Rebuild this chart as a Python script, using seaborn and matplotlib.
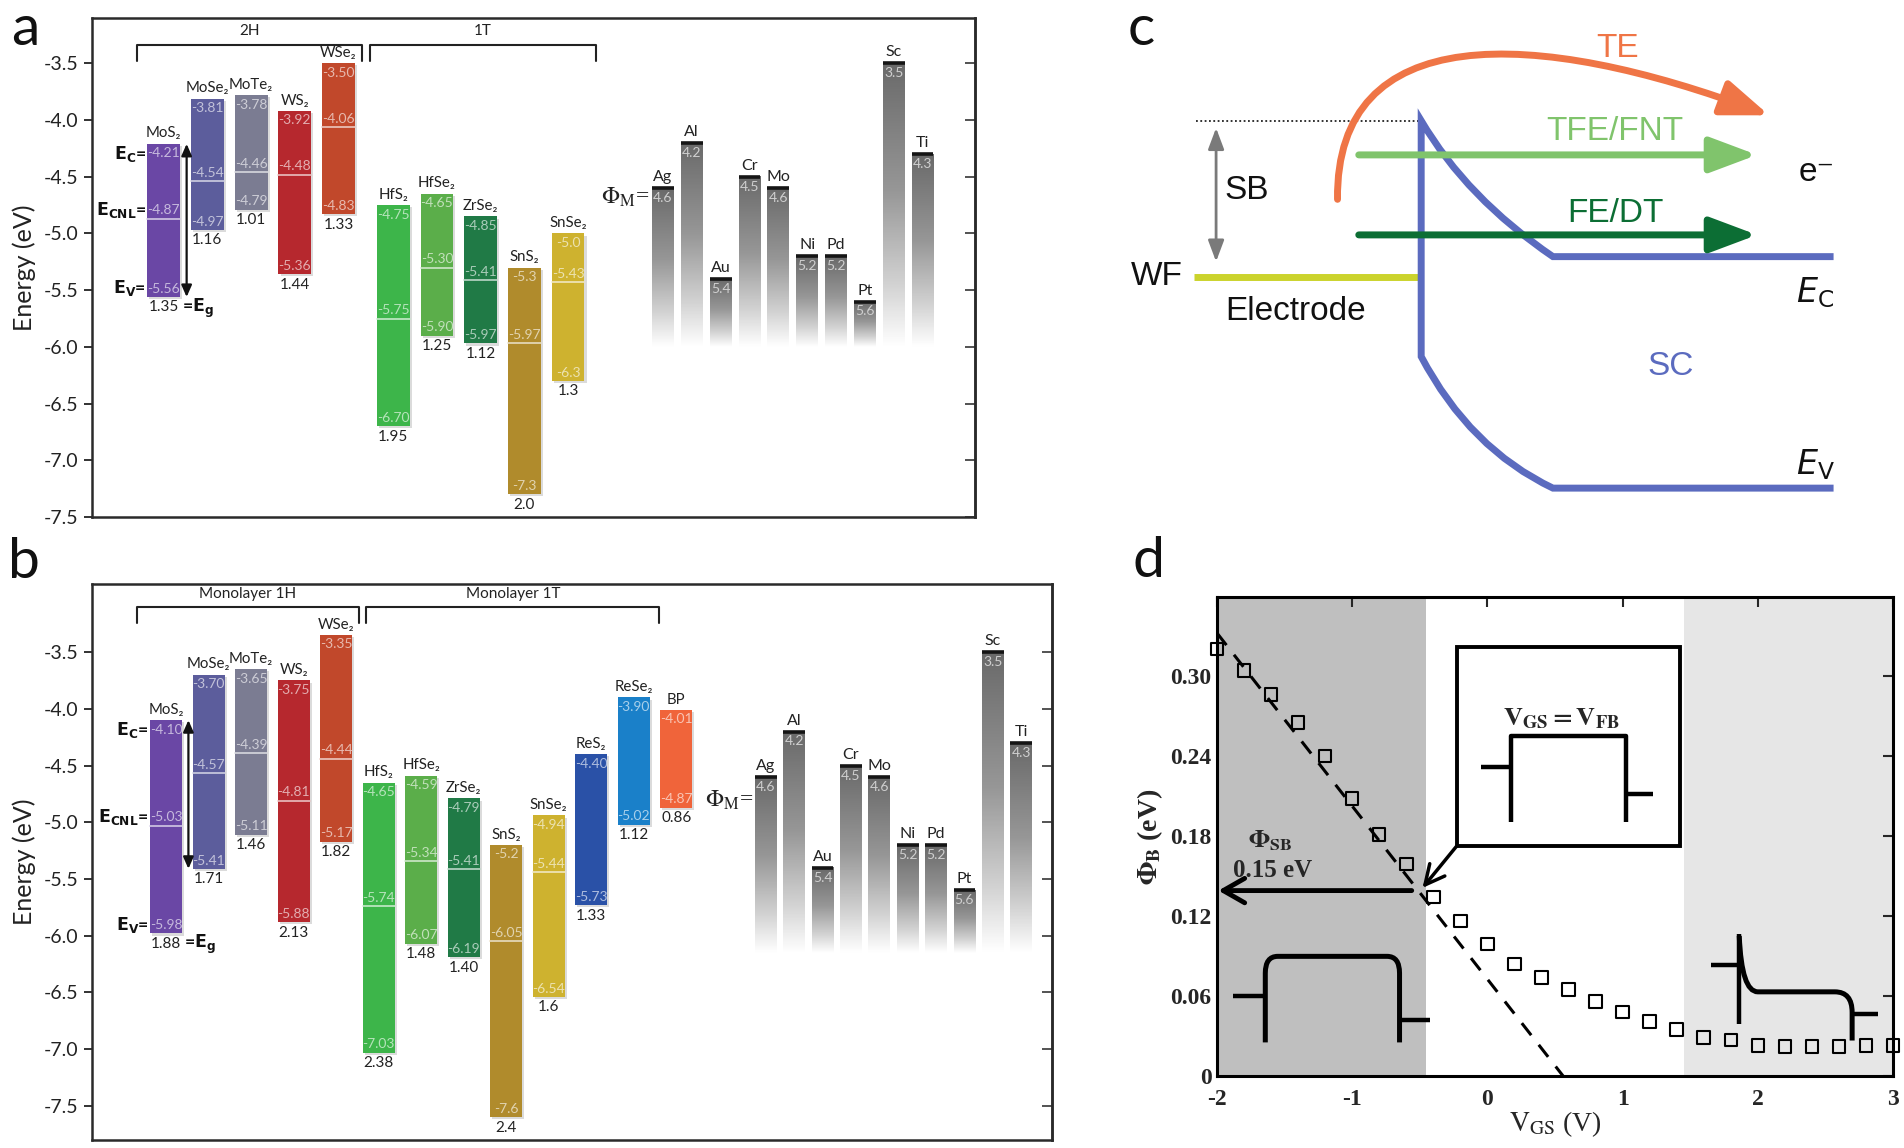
import numpy as np
import matplotlib
matplotlib.use("Agg")
import matplotlib.pyplot as plt
import matplotlib.patheffects as pe
import seaborn as sns
from matplotlib.colors import LinearSegmentedColormap, to_rgb
from matplotlib.path import Path
from matplotlib.patches import PathPatch, FancyArrowPatch, Rectangle

# --- panel a: bulk TMDs, band edges (eV) ---
A_NAMES = ["MoS₂", "MoSe₂", "MoTe₂", "WS₂", "WSe₂", "HfS₂", "HfSe₂", "ZrSe₂", "SnS₂", "SnSe₂"]
A_EC = ["-4.21", "-3.81", "-3.78", "-3.92", "-3.50", "-4.75", "-4.65", "-4.85", "-5.3", "-5.0"]
A_CNL = ["-4.87", "-4.54", "-4.46", "-4.48", "-4.06", "-5.75", "-5.30", "-5.41", "-5.97", "-5.43"]
A_EV = ["-5.56", "-4.97", "-4.79", "-5.36", "-4.83", "-6.70", "-5.90", "-5.97", "-7.3", "-6.3"]
A_GAP = ["1.35", "1.16", "1.01", "1.44", "1.33", "1.95", "1.25", "1.12", "2.0", "1.3"]
A_GROUPS = ["2H", "1T"]

# --- panel b: monolayers, band edges (eV) ---
B_NAMES = A_NAMES + ["ReS₂", "ReSe₂", "BP"]
B_EC = ["-4.10", "-3.70", "-3.65", "-3.75", "-3.35", "-4.65", "-4.59", "-4.79", "-5.2", "-4.94", "-4.40", "-3.90", "-4.01"]
B_CNL = ["-5.03", "-4.57", "-4.39", "-4.81", "-4.44", "-5.74", "-5.34", "-5.41", "-6.05", "-5.44", None, None, None]
B_EV = ["-5.98", "-5.41", "-5.11", "-5.88", "-5.17", "-7.03", "-6.07", "-6.19", "-7.6", "-6.54", "-5.73", "-5.02", "-4.87"]
B_GAP = ["1.88", "1.71", "1.46", "2.13", "1.82", "2.38", "1.48", "1.40", "2.4", "1.6", "1.33", "1.12", "0.86"]
B_GROUPS = ["Monolayer 1H", "Monolayer 1T"]

# --- metal work functions (eV) ---
METALS = ["Ag", "Al", "Au", "Cr", "Mo", "Ni", "Pd", "Pt", "Sc", "Ti"]
WORK_FN = ["4.6", "4.2", "5.4", "4.5", "4.6", "5.2", "5.2", "5.6", "3.5", "4.3"]

E_TICKS = [-3.5, -4.0, -4.5, -5.0, -5.5, -6.0, -6.5, -7.0, -7.5]

COLORS = {
    "MoS₂": "#6a47a5", "MoSe₂": "#5c5d9c", "MoTe₂": "#7b7c92", "WS₂": "#b6282e",
    "WSe₂": "#c1482b", "HfS₂": "#3db54a", "HfSe₂": "#5bae4a", "ZrSe₂": "#207a46",
    "SnS₂": "#b08b2c", "SnSe₂": "#ceb22f", "ReS₂": "#2a51a7", "ReSe₂": "#1a80c9",
    "BP": "#f0643a",
}

# --- panel d: barrier height vs gate voltage ---
VGS = [-2.0, -1.8, -1.6, -1.4, -1.2, -1.0, -0.8, -0.6, -0.4, -0.2, 0.0, 0.2, 0.4,
       0.6, 0.8, 1.0, 1.2, 1.4, 1.6, 1.8, 2.0, 2.2, 2.4, 2.6, 2.8, 3.0]
PHI_B = [0.320, 0.304, 0.286, 0.265, 0.240, 0.208, 0.181, 0.159, 0.134, 0.116, 0.099,
         0.084, 0.074, 0.065, 0.056, 0.048, 0.041, 0.035, 0.029, 0.027, 0.023, 0.022,
         0.022, 0.022, 0.023, 0.023]
FIT_V = [-2.0, 0.56]
FIT_PHI = [0.332, 0.0]
V_FB = -0.455
V_ACC = 1.455
PHI_SB = 0.139

# --- panel c: schematic band diagram (sketch units, y grows downward) ---
BAND_XY = [(1510, 211.4), (1278.9, 211.4), (1208, 163.3), (1170.4, 99.4), (1170.4, 293.7),
           (1210.4, 369.6), (1278.9, 402.1), (1510, 402.1)]
BAND_CODES = [Path.MOVETO, Path.LINETO, Path.CURVE3, Path.CURVE3, Path.LINETO,
              Path.CURVE3, Path.CURVE3, Path.LINETO]
TE_XY = [(1101.5, 164.2), (1099.9, 16.5), (1262.7, 22.0), (1457.0, 95.0)]
BARRIER_TOP = 99.4
WF_LEVEL = 228.0

SANS = ["Lato", "DejaVu Sans"]
ARIAL = ["Liberation Sans", "DejaVu Sans"]
SERIF = ["Liberation Serif", "DejaVu Serif"]

sns.set_style("white")
plt.rcParams["font.family"] = SANS

METAL_CMAP = LinearSegmentedColormap.from_list(
    "metal", [(0, "#6a6a6a"), (0.45, "#979797"), (0.78, "#d2d2d2"), (1, "#ffffff")])
RAMP = np.linspace(0, 1, 200)[:, None]


def tint(c, f):
    r, g, b = to_rgb(c)
    return (r + (1 - r) * f, g + (1 - g) * f, b + (1 - b) * f)


def draw_semis(ax, xs, names, ec, cnl, ev, gap, w=0.75):
    for x, n, t, m, b, g in zip(xs, names, ec, cnl, ev, gap):
        top, bot = float(t), float(b)
        col = COLORS[n]
        light = tint(col, 0.62)
        bar = ax.bar(x, top - bot, bottom=bot, width=w, color=col, lw=0, zorder=2)
        bar[0].set_path_effects([pe.SimplePatchShadow(offset=(1.5, -1.5), shadow_rgbFace="#999999", alpha=0.35),
                                 pe.Normal()])
        ax.text(x, top - 0.03, t, ha="center", va="top", color=light, fontsize=10, zorder=4)
        if m is not None:
            mid = float(m)
            ax.plot([x - w / 2, x + w / 2], [mid, mid], color=tint(col, 0.7), lw=1.2, zorder=3)
            ax.text(x, mid + 0.02, m, ha="center", va="bottom", color=light, fontsize=10, zorder=4)
        ax.text(x, bot + 0.02, b, ha="center", va="bottom", color=light, fontsize=10, zorder=4)
        ax.text(x, bot - 0.03, g, ha="center", va="top", color="#222222", fontsize=11)
        ax.text(x, top + 0.03, n, ha="center", va="bottom", color="#222222", fontsize=10.8)


def draw_metals(ax, xs, fade_to, w=0.5):
    for x, n, wf in zip(xs, METALS, WORK_FN):
        top = -float(wf)
        ax.imshow(RAMP, extent=[x - w / 2, x + w / 2, fade_to, top], cmap=METAL_CMAP,
                  vmin=0, vmax=1, aspect="auto", interpolation="bilinear", zorder=2)
        ax.plot([x - w / 2, x + w / 2], [top, top], color="#151515", lw=2.6,
                solid_capstyle="butt", zorder=3)
        ax.text(x, top + 0.035, n, ha="center", va="bottom", color="#222222", fontsize=11.5)
        ax.text(x, top - 0.035, wf, ha="center", va="top", color="#cfcfcf", fontsize=10, zorder=4)


def bracket(ax, x0, x1, y, label, drop=0.14, gap=0.05):
    ax.plot([x0, x0, x1, x1], [y - drop, y, y, y - drop], color="#222222", lw=1.5)
    ax.text((x0 + x1) / 2, y + gap, label, ha="center", va="bottom", fontsize=11, color="#222222")


def edge_labels(ax, x, ec, cnl, ev, gap, arrow_to, w=0.75):
    left = x - w / 2 - 0.03
    kw = dict(ha="right", va="center", fontsize=12.5, fontweight="bold", color="#111111",
              math_fontfamily="dejavusans")
    ax.text(left, float(ec) - 0.085, r"$\mathbf{E}_{\mathbf{C}}$=", **kw)
    ax.text(left, float(cnl) + 0.075, r"$\mathbf{E}_{\mathbf{CNL}}$=", **kw)
    ax.text(left, float(ev) + 0.075, r"$\mathbf{E}_{\mathbf{V}}$=", **kw)
    kw["ha"] = "left"
    ax.text(x + w / 2 + 0.05, float(ev) - 0.1, r"=$\mathbf{E}_{\mathbf{g}}$", **kw)
    ax.annotate("", xy=(x + w / 2 + 0.15, arrow_to), xytext=(x + w / 2 + 0.15, float(ec)),
                arrowprops=dict(arrowstyle="<|-|>,head_length=0.5,head_width=0.22", lw=1.6,
                                color="#111111", shrinkA=0, shrinkB=0, mutation_scale=14))


def style_energy(ax, xlim, ylim):
    ax.set_xlim(*xlim)
    ax.set_ylim(*ylim)
    ax.set_xticks([])
    ax.set_yticks(E_TICKS)
    ax.set_yticklabels([f"{t:.1f}" for t in E_TICKS])
    ax.tick_params(axis="y", direction="out", length=6, width=1.3, labelsize=14,
                   colors="#222222", left=True, right=False)
    sec = ax.secondary_yaxis("right")
    sec.set_yticks(E_TICKS)
    sec.tick_params(direction="in", length=7, width=1.3, labelright=False, colors="#444444")
    sec.spines["right"].set_linewidth(1.8)
    sec.spines["right"].set_color("#2a2a2a")
    for s in ax.spines.values():
        s.set_linewidth(1.8)
        s.set_color("#2a2a2a")
    ax.set_ylabel("Energy (eV)", fontsize=18, labelpad=6, color="#222222")


fig = plt.figure(figsize=(19.04, 11.48), dpi=100)

# ---------------- panel a ----------------
axa = fig.add_axes([0.04832, 0.54965, 0.46376, 0.43467])
a_x = np.arange(len(A_NAMES)) + np.repeat([0.0, 0.25], 5)
a_mx = 11.42 + 0.66 * np.arange(len(METALS))
draw_semis(axa, a_x, A_NAMES, A_EC, A_CNL, A_EV, A_GAP)
draw_metals(axa, a_mx, -6.0)
edge_labels(axa, a_x[0], A_EC[0], A_CNL[0], A_EV[0], A_GAP[0], float(A_EV[0]))
bracket(axa, a_x[0] - 0.61, a_x[4] + 0.53, -3.34, A_GROUPS[0], gap=0.06)
bracket(axa, a_x[5] - 0.53, a_x[9] + 0.64, -3.34, A_GROUPS[1], gap=0.06)
axa.text(a_mx[0] - 0.3, -4.68, r"$\Phi_{\mathrm{M}}$=", ha="right", va="center", fontsize=17,
         family=SERIF, math_fontfamily="stix", color="#222222")
style_energy(axa, (-1.64, 18.56), (-7.5, -3.10))

# ---------------- panel b ----------------
axb = fig.add_axes([0.04832, 0.00697, 0.5042, 0.48432])
b_x = np.arange(len(B_NAMES)).astype(float)
b_mx = 14.11 + 0.667 * np.arange(len(METALS))
draw_semis(axb, b_x, B_NAMES, B_EC, B_CNL, B_EV, B_GAP)
draw_metals(axb, b_mx, -6.15, w=0.51)
edge_labels(axb, b_x[0], B_EC[0], B_CNL[0], B_EV[0], B_GAP[0], float(B_EV[1]))
bracket(axb, b_x[0] - 0.69, b_x[4] + 0.54, -3.10, B_GROUPS[0])
bracket(axb, b_x[5] - 0.29, b_x[11] + 0.6, -3.10, B_GROUPS[1])
axb.text(b_mx[0] - 0.3, -4.81, r"$\Phi_{\mathrm{M}}$=", ha="right", va="center", fontsize=17,
         family=SERIF, math_fontfamily="stix", color="#222222")
style_energy(axb, (-1.743, 20.84), (-7.80, -2.90))

# ---------------- panel c ----------------
axc = fig.add_axes([0.5931, 0.5453, 0.4069, 0.4547])
axc.set_xlim(930, 1568)
axc.set_ylim(430, 0)
axc.axis("off")
axc.plot([985.3, BAND_XY[3][0]], [BARRIER_TOP, BARRIER_TOP], color="#222222", lw=1.3, ls=(0, (1, 1.4)))
axc.plot([983, BAND_XY[3][0] - 3], [WF_LEVEL, WF_LEVEL], color="#cbd32c", lw=5, solid_capstyle="butt")
axc.add_patch(PathPatch(Path(BAND_XY, BAND_CODES), fill=False, ec="#5b6bbf", lw=5,
                        joinstyle="miter", capstyle="butt", zorder=2))
axc.annotate("", xy=(1001.5, WF_LEVEL - 12.5), xytext=(1001.5, BARRIER_TOP + 6),
             arrowprops=dict(arrowstyle="<|-|>,head_length=0.8,head_width=0.3", lw=2,
                             color="#7a7a7a", shrinkA=0, shrinkB=0, mutation_scale=16))
te = FancyArrowPatch(path=Path(TE_XY, [Path.MOVETO, Path.CURVE4, Path.CURVE4, Path.CURVE4]),
                     arrowstyle="-|>,head_length=1.2,head_width=0.45", mutation_scale=24,
                     color="#ef7546", lw=5, zorder=4)
axc.add_patch(te)
for y, col in [(127.6, "#80c46c"), (193.5, "#0c6e34")]:
    axc.add_patch(FancyArrowPatch((1119, y), (1447, y), arrowstyle="-|>,head_length=1.2,head_width=0.45",
                                  mutation_scale=24, color=col, lw=5, shrinkA=0, shrinkB=0, zorder=4))
tc = dict(fontsize=24, family=ARIAL, va="center")
axc.text(1332, 40, "TE", ha="center", color="#ef7546", **tc)
axc.text(1330, 108, "TFE/FNT", ha="center", color="#80c46c", **tc)
axc.text(1330, 176, "FE/DT", ha="center", color="#0c6e34", **tc)
axc.text(1008, 157, "SB", ha="left", color="#111111", **tc)
axc.text(974, WF_LEVEL, "WF", ha="right", color="#111111", **tc)
axc.text(1009, 257, "Electrode", ha="left", color="#111111", **tc)
axc.text(1376, 302, "SC", ha="center", color="#5b6bbf", **tc)
axc.text(1481, 142, "e⁻", ha="left", color="#111111", **tc)
axc.text(1479, 241, r"$E_{\mathrm{C}}$", ha="left", color="#111111", math_fontfamily="dejavusans", **tc)
axc.text(1479, 383, r"$E_{\mathrm{V}}$", ha="left", color="#111111", math_fontfamily="dejavusans", **tc)

# ---------------- panel d ----------------
axd = fig.add_axes([0.6392, 0.0627, 0.3550, 0.4172])
axd.axvspan(-2, V_FB, color="#bfbfbf", lw=0, zorder=0)
axd.axvspan(V_ACC, 3, color="#e6e6e6", lw=0, zorder=0)
sns.lineplot(x=FIT_V, y=FIT_PHI, ax=axd, color="black", lw=2.2, linestyle=(0, (5, 4)), zorder=3)
sns.scatterplot(x=VGS, y=PHI_B, ax=axd, marker="s", s=80, facecolor="none", edgecolor="black",
                linewidth=1.5, zorder=5, clip_on=False)
axd.set_xlim(-2, 3)
axd.set_ylim(0, 0.359)

# inset box + flat-band sketch
axd.add_patch(Rectangle((-0.227, 0.1724), 1.649, 0.1492, fc="white", ec="black", lw=2.8, zorder=6))
sk = dict(color="black", lw=3.2, solid_capstyle="butt", zorder=7)
axd.plot([-0.05, 0.171], [0.2319, 0.2319], **sk)
axd.plot([0.171, 0.171, 1.024, 1.024], [0.1907, 0.2551, 0.2551, 0.1907], **sk)
axd.plot([1.024, 1.227], [0.2111, 0.2111], **sk)
axd.text(0.546, 0.2678, r"$\mathbf{V}_{\mathbf{GS}}\mathbf{=V}_{\mathbf{FB}}$", ha="center", va="center",
         fontsize=19, math_fontfamily="stix", zorder=7)
axd.annotate("", xy=(-0.48, 0.141), xytext=(-0.227, 0.1724),
             arrowprops=dict(arrowstyle="->,head_length=0.7,head_width=0.35", lw=2.5, color="black",
                             shrinkA=0, shrinkB=0, mutation_scale=20), zorder=7)

# depletion sketch (left)
pk = dict(fill=False, ec="black", lw=3.6, capstyle="butt", zorder=4)
axd.plot([-1.882, -1.643], [0.0603, 0.0603], **sk)
axd.add_patch(PathPatch(Path([(-1.643, 0.0252), (-1.643, 0.0771), (-1.643, 0.0897), (-1.551, 0.0897),
                              (-0.742, 0.0897), (-0.650, 0.0897), (-0.650, 0.0771), (-0.650, 0.0252)],
                             [Path.MOVETO, Path.LINETO, Path.CURVE3, Path.CURVE3, Path.LINETO,
                              Path.CURVE3, Path.CURVE3, Path.LINETO]), **pk))
axd.plot([-0.650, -0.422], [0.042, 0.042], **sk)

# accumulation sketch (right)
axd.plot([1.657, 1.863], [0.0833, 0.0833], **sk)
axd.plot([1.863, 1.863], [0.1065, 0.0393], **sk)
axd.add_patch(PathPatch(Path([(1.863, 0.105), (1.88, 0.0631), (2.0, 0.0631), (2.57, 0.0631),
                              (2.698, 0.0631), (2.698, 0.0477), (2.698, 0.0266)],
                             [Path.MOVETO, Path.CURVE3, Path.CURVE3, Path.LINETO, Path.CURVE3,
                              Path.CURVE3, Path.LINETO]), **pk))
axd.plot([2.698, 2.890], [0.0463, 0.0463], **sk)

# barrier height readout
axd.annotate("", xy=(-1.99, PHI_SB), xytext=(-0.56, PHI_SB),
             arrowprops=dict(arrowstyle="->,head_length=0.7,head_width=0.4", lw=3.5, color="black",
                             shrinkA=0, shrinkB=0, mutation_scale=22), zorder=6)
axd.text(-1.606, 0.1766, r"$\mathbf{\Phi}_{\mathbf{SB}}$", ha="center", va="center", fontsize=18,
         math_fontfamily="stix")
axd.text(-1.588, 0.154, "0.15 eV", ha="center", va="center", fontsize=18, family=SERIF,
         fontweight="bold")

axd.set_xticks([-2, -1, 0, 1, 2, 3])
axd.set_xticklabels(["-2", "-1", "0", "1", "2", "3"])
axd.set_yticks([0, 0.06, 0.12, 0.18, 0.24, 0.30])
axd.set_yticklabels(["0", "0.06", "0.12", "0.18", "0.24", "0.30"])
axd.tick_params(direction="in", top=True, right=True, length=7, width=1.5, labelsize=17, pad=4)
axd.tick_params(axis="x", pad=9)
for lbl in axd.get_xticklabels() + axd.get_yticklabels():
    lbl.set_family(SERIF)
    lbl.set_fontweight("bold")
for s in axd.spines.values():
    s.set_linewidth(2.2)
    s.set_color("black")
axd.set_xlabel(r"$\mathrm{V}_{\mathrm{GS}}$ (V)", fontsize=20, family=SERIF, math_fontfamily="stix", labelpad=0)
axd.set_ylabel(r"$\mathbf{\Phi}_{\mathbf{B}}$ (eV)", fontsize=20, family=SERIF, fontweight="bold",
               math_fontfamily="stix", labelpad=4)

# panel letters
for lx, ly, s in [(0.006, 0.961, "a"), (0.004, 0.4965, "b"), (0.5925, 0.961, "c"), (0.595, 0.4974, "d")]:
    fig.text(lx, ly, s, fontsize=41, va="baseline", ha="left", color="#111111")

fig.savefig("out.png", dpi=100)
